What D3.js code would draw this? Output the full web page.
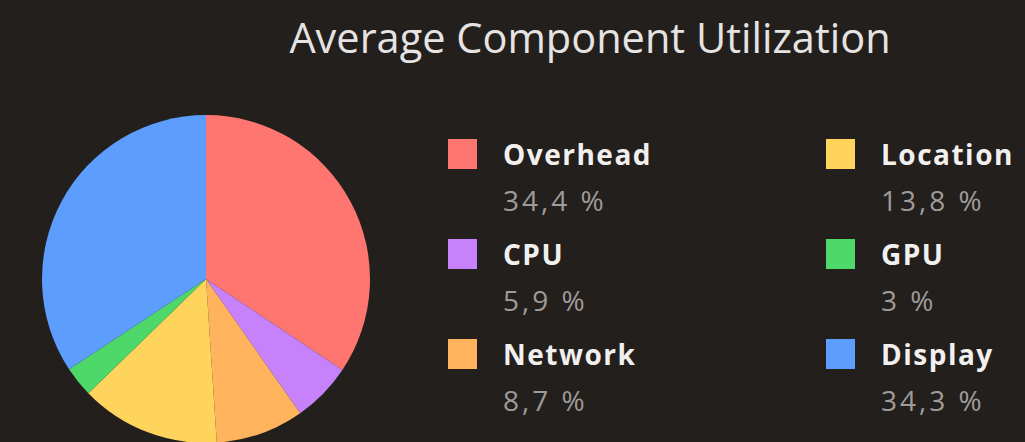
<!DOCTYPE html>
<html>
<head>
<meta charset="utf-8">
<script src="https://cdn.jsdelivr.net/npm/d3@7"></script>
<style>
  html, body { margin: 0; padding: 0; background: #231f1d; }
  svg { display: block; }
</style>
</head>
<body>
<div id="chart"></div>
<script>
// component names, shares (%) and colours
var components = ["Overhead", "CPU", "Network", "Location", "GPU", "Display"];
var shares = [34.4, 5.9, 8.7, 13.8, 3, 34.3];
var colors = ["#ff7670", "#c781fb", "#ffb35d", "#ffd45c", "#4fd86a", "#5c9dfd"];
var titleText = "Average Component Utilization";

var width = 1025, height = 442;
var font = "'Open Sans', Roboto, sans-serif";

var svg = d3.select("#chart").append("svg")
    .attr("width", width)
    .attr("height", height);

svg.append("rect").attr("width", width).attr("height", height).attr("fill", "#231f1d");

/* Title */
svg.append("text")
    .attr("x", 590)
    .attr("y", 53)
    .attr("text-anchor", "middle")
    .attr("fill", "#e6e4e2")
    .style("font-family", font)
    .style("font-size", "41.5px")
    .text(titleText);

var data = components.map(function (d, i) { return { name: d, value: shares[i], color: colors[i] } });

/* Pie */
var pie = d3.pie().sort(null).value(d => d.value);
var arc = d3.arc().innerRadius(0).outerRadius(164);

var g = svg.append("g").attr("transform", "translate(206,279)");
g.selectAll("path")
    .data(pie(data))
    .join("path")
    .attr("d", arc)
    .attr("fill", d => d.data.color);

/* Legend: two columns of three */
var colX = d3.scaleOrdinal().domain([0, 1]).range([448, 826]);
var rowY = d3.scaleLinear().domain([0, 1]).range([139, 239]);

var fmt = function (v) { return String(v).replace(".", ",") + " %" };

var entry = svg.selectAll(".entry")
    .data(data)
    .join("g")
    .attr("class", "entry")
    .attr("transform", (d, i) => "translate(" + colX(Math.floor(i / 3)) + "," + rowY(i % 3) + ")");

entry.append("rect")
    .attr("width", 29)
    .attr("height", 30)
    .attr("fill", d => d.color);

entry.append("text")
    .attr("x", 55)
    .attr("y", 26)
    .attr("fill", "#f2f0ee")
    .style("font-family", font)
    .style("font-weight", "bold")
    .style("font-size", "28px")
    .style("letter-spacing", "1.5px")
    .text(d => d.name);

entry.append("text")
    .attr("x", 55)
    .attr("y", 72)
    .attr("fill", "#9f9b98")
    .style("font-family", font)
    .style("font-size", "28px")
    .style("letter-spacing", "3px")
    .text(d => fmt(d.value));
</script>
</body>
</html>
